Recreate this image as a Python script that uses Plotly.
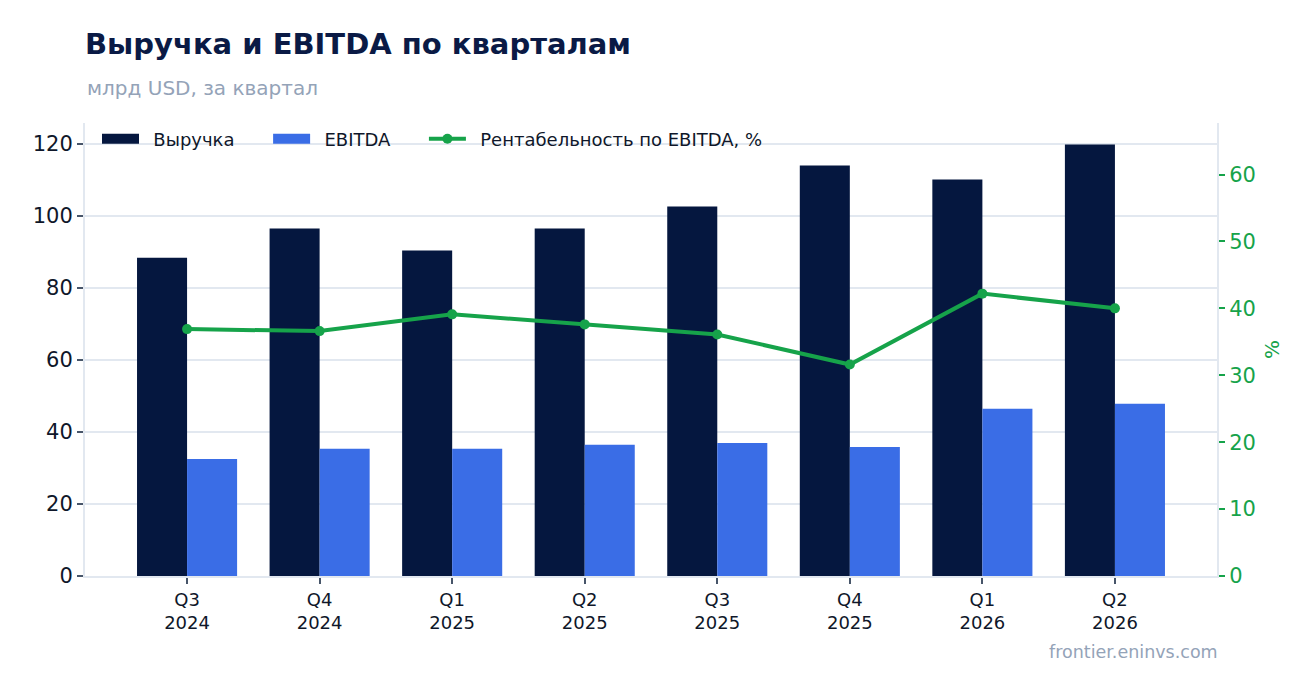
import plotly.graph_objects as go

quarters = ["Q3<br>2024", "Q4<br>2024", "Q1<br>2025", "Q2<br>2025",
            "Q3<br>2025", "Q4<br>2025", "Q1<br>2026", "Q2<br>2026"]
revenue = [88.3, 96.4, 90.3, 96.4, 102.5, 113.9, 110.0, 119.7]
ebitda = [32.5, 35.3, 35.3, 36.4, 36.9, 35.8, 46.4, 47.8]
margin = [36.9, 36.6, 39.1, 37.6, 36.1, 31.6, 42.2, 40.0]

NAVY = "#05173f"
BLUE = "#3a6de6"
GREEN = "#16a34a"
GRID = "#e2e8f0"
MUTED = "#94a3b8"
FONT = "DejaVu Sans"

# page has an 8px body margin, so the figure is laid out 8px in from the window
W, H = 1300, 677
L, R, T, B = 77, 91, 115, 109
PH = H - T - B

# padding around legend labels (symbol-to-text gap and gap between entries)
PRE = "\u00a0\u2009"
POST = "\u00a0" * 5


fig = go.Figure()

fig.add_trace(go.Bar(
    x=quarters, y=revenue, name="Выручка",
    marker_color=NAVY, marker_line_width=0, showlegend=False
))
fig.add_trace(go.Bar(
    x=quarters, y=ebitda, name="EBITDA",
    marker_color=BLUE, marker_line_width=0, showlegend=False
))
# legend-only entries so the bar keys are wide rectangles
fig.add_trace(go.Scatter(
    x=[None], y=[None], name=PRE + "Выручка" + POST, mode="lines",
    line=dict(color=NAVY, width=13)
))
fig.add_trace(go.Scatter(
    x=[None], y=[None], name=PRE + "EBITDA" + POST, mode="lines",
    line=dict(color=BLUE, width=13)
))
fig.add_trace(go.Scatter(
    x=quarters, y=margin, name=PRE + "Рентабельность по EBITDA, %",
    mode="lines+markers", yaxis="y2",
    line=dict(color=GREEN, width=4),
    marker=dict(color=GREEN, size=10)
))

fig.update_layout(
    width=W, height=H,
    paper_bgcolor="white", plot_bgcolor="white",
    font=dict(family=FONT, color="#0f172a"),
    margin=dict(l=L, r=R, t=T, b=B),
    barmode="group", bargap=0.245, bargroupgap=0,
    title=dict(
        text="<b>Выручка и EBITDA по кварталам</b>",
        x=L / W, xanchor="left", y=1 - 36 / H, yanchor="middle",
        font=dict(size=29, color="#0a1a45", family=FONT)
    ),
    legend=dict(
        orientation="h", x=12 / 1132, y=1 - 16 / PH, xanchor="left", yanchor="middle",
        font=dict(size=18, color="#0f172a"), bgcolor="rgba(0,0,0,0)",
        itemwidth=37, traceorder="normal"
    ),
    xaxis=dict(
        range=[-0.77, 7.77], showgrid=False,
        showline=True, linecolor=GRID, linewidth=2,
        ticks="outside", ticklen=6, tickwidth=2, tickcolor="#475569",
        tickfont=dict(size=18, color="#0f172a")
    ),
    yaxis=dict(
        range=[0, 125.7], dtick=20,
        showgrid=True, gridcolor=GRID, gridwidth=2,
        showline=True, linecolor=GRID, linewidth=2, zeroline=False,
        ticks="outside", ticklen=6, tickwidth=2, tickcolor="#475569",
        tickfont=dict(size=21, color="#0f172a")
    ),
    yaxis2=dict(
        overlaying="y", side="right", range=[0, 67.7], dtick=10,
        showgrid=False, zeroline=False,
        showline=True, linecolor=GRID, linewidth=2,
        ticks="outside", ticklen=6, tickwidth=2, tickcolor=GREEN,
        tickfont=dict(size=21, color=GREEN),
        title=dict(text="%", font=dict(size=20, color=GREEN), standoff=10)
    ),
    annotations=[
        dict(text="млрд USD, за квартал", xref="paper", yref="paper",
             x=0, y=1 + (T - 80) / PH, xanchor="left", yanchor="middle",
             showarrow=False, font=dict(size=20, color=MUTED)),
        dict(text="frontier.eninvs.com", xref="paper", yref="paper",
             x=1, y=-(644 - (H - B)) / PH, xanchor="right", yanchor="middle",
             xshift=3, showarrow=False, font=dict(size=17.5, color=MUTED)),
    ]
)

fig.write_html("out.html")
